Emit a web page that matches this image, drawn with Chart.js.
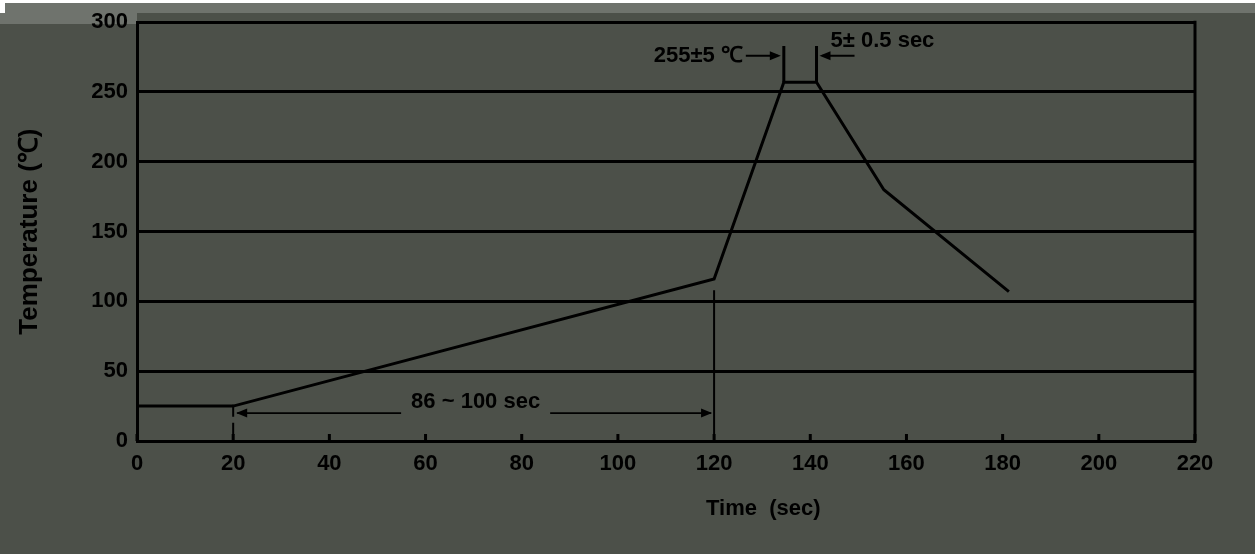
<!DOCTYPE html>
<html>
<head>
<meta charset="utf-8">
<script src="https://cdn.jsdelivr.net/npm/chart.js@4.4.1/dist/chart.umd.min.js"></script>
<style>
  html, body { margin: 0; padding: 0; background: #4c5049; }
  #wrap { width: 1255px; height: 554px; }
</style>
</head>
<body>
<div id="wrap"><canvas id="profile"></canvas></div>
<script>
// reflow profile
const timeSec = [0, 20, 120, 134.5, 141.3, 155.3, 181.3];
const tempC = [25, 25, 116, 257, 257, 180, 107];
const xTicks = [0, 20, 40, 60, 80, 100, 120, 140, 160, 180, 200, 220];
const yTicks = [0, 50, 100, 150, 200, 250, 300];

const soakLabel = '86 ~ 100 sec';
const peakTempLabel = '255±5 ℃';
const peakTimeLabel = '5± 0.5 sec';
const xTitle = 'Time  (sec)';

const ink = '#000';
const bg = '#4c5049';
const font = "'Liberation Sans', Arial, sans-serif";

// fond gris + bande claire en haut
const backdrop = {
  id: 'backdrop',
  beforeDraw(chart) {
    const { ctx, width, height } = chart;
    ctx.save();
    ctx.fillStyle = bg;
    ctx.fillRect(0, 0, width, height);
    ctx.fillStyle = '#6f736d';
    ctx.fillRect(0, 3, width, 10);
    ctx.fillRect(0, 13, 137, 11);
    ctx.fillStyle = '#fff';
    ctx.fillRect(0, 0, width, 3);
    ctx.fillRect(0, 0, 5, 13);
    ctx.restore();
  }
};

function arrowHead(ctx, x, y, dir) {
  ctx.beginPath();
  ctx.moveTo(x, y);
  ctx.lineTo(x - dir * 11, y - 4.5);
  ctx.lineTo(x - dir * 11, y + 4.5);
  ctx.closePath();
  ctx.fill();
}

// cotes : durée de préchauffage, pic
const markers = {
  id: 'markers',
  afterDraw(chart) {
    const { ctx, chartArea } = chart;
    const xs = chart.scales.x, ys = chart.scales.y;
    ctx.save();
    ctx.strokeStyle = ink;
    ctx.fillStyle = ink;

    // bord droit
    ctx.lineWidth = 3;
    ctx.beginPath();
    ctx.moveTo(chartArea.right, chartArea.top - 1.5);
    ctx.lineTo(chartArea.right, chartArea.bottom + 1.5);
    ctx.stroke();

    // petits traits de graduation vers l'intérieur
    xs.ticks.forEach(t => {
      const px = xs.getPixelForValue(t.value);
      ctx.beginPath();
      ctx.moveTo(px, chartArea.bottom);
      ctx.lineTo(px, chartArea.bottom - 7);
      ctx.stroke();
    });

    const x20 = xs.getPixelForValue(timeSec[1]);
    const x120 = xs.getPixelForValue(timeSec[2]);
    const y0 = ys.getPixelForValue(0);

    // trait pointillé à 20 s
    ctx.lineWidth = 2;
    ctx.setLineDash([12, 6]);
    ctx.beginPath();
    ctx.moveTo(x20, ys.getPixelForValue(26));
    ctx.lineTo(x20, y0);
    ctx.stroke();
    ctx.setLineDash([]);

    // trait vertical à 120 s
    ctx.beginPath();
    ctx.moveTo(x120, ys.getPixelForValue(108));
    ctx.lineTo(x120, y0);
    ctx.stroke();

    // flèche 86 ~ 100 sec
    const ya = ys.getPixelForValue(20);
    ctx.font = `bold 22px ${font}`;
    ctx.textAlign = 'center';
    ctx.textBaseline = 'middle';
    const mid = (x20 + x120) / 2 + 2;
    const half = ctx.measureText(soakLabel).width / 2 + 10;
    ctx.lineWidth = 1.8;
    ctx.beginPath();
    ctx.moveTo(x20 + 4, ya);
    ctx.lineTo(mid - half, ya);
    ctx.moveTo(mid + half, ya);
    ctx.lineTo(x120 - 3, ya);
    ctx.stroke();
    arrowHead(ctx, x20 + 3, ya, -1);
    arrowHead(ctx, x120 - 2, ya, 1);
    ctx.fillText(soakLabel, mid, ya - 11);

    // pic
    const xp1 = xs.getPixelForValue(timeSec[3]);
    const xp2 = xs.getPixelForValue(timeSec[4]);
    const yTop = ys.getPixelForValue(283);
    const yFlat = ys.getPixelForValue(tempC[3]);
    const yArr = ys.getPixelForValue(276);
    ctx.lineWidth = 3;
    ctx.beginPath();
    ctx.moveTo(xp1, yTop); ctx.lineTo(xp1, yFlat);
    ctx.moveTo(xp2, yTop); ctx.lineTo(xp2, yFlat);
    ctx.stroke();

    ctx.lineWidth = 2;
    ctx.beginPath();
    ctx.moveTo(xp1 - 38, yArr); ctx.lineTo(xp1 - 6, yArr);
    ctx.moveTo(xp2 + 38, yArr); ctx.lineTo(xp2 + 6, yArr);
    ctx.stroke();
    arrowHead(ctx, xp1 - 3, yArr, 1);
    arrowHead(ctx, xp2 + 3, yArr, -1);

    ctx.textAlign = 'right';
    ctx.fillText(peakTempLabel, xp1 - 41, yArr);
    ctx.textAlign = 'left';
    ctx.fillText(peakTimeLabel, xp2 + 14, yArr - 15);

    // titre de l'axe X, décalé à droite comme sur l'original
    ctx.textAlign = 'center';
    ctx.fillText(xTitle, chartArea.left + chartArea.width * 0.592, 509);

    ctx.restore();
  }
};

Chart.defaults.font.family = font;
Chart.defaults.font.weight = 'bold';
Chart.defaults.color = ink;

new Chart(document.getElementById('profile'), {
  type: 'line',
  data: {
    datasets: [{
      data: timeSec.map((t, i) => ({ x: t, y: tempC[i] })),
      borderColor: ink,
      borderWidth: 3,
      pointRadius: 0,
      tension: 0,
      fill: false
    }]
  },
  plugins: [backdrop, markers],
  options: {
    responsive: true,
    maintainAspectRatio: false,
    animation: false,
    devicePixelRatio: 1,
    layout: { padding: { left: 0, right: 60, top: 22, bottom: 0 } },
    plugins: { legend: { display: false }, tooltip: { enabled: false } },
    scales: {
      x: {
        type: 'linear',
        min: 0,
        max: 220,
        afterBuildTicks: s => { s.ticks = xTicks.map(v => ({ value: v })); },
        afterFit: s => { s.height = 113; },
        ticks: { padding: 10, maxRotation: 0, font: { size: 22, weight: 'bold' } },
        grid: { drawOnChartArea: false, drawTicks: false },
        border: { display: true, color: ink, width: 3 }
      },
      y: {
        min: 0,
        max: 300,
        afterBuildTicks: s => { s.ticks = yTicks.map(v => ({ value: v })); },
        afterFit: s => { s.width = 137; },
        ticks: { padding: 9, font: { size: 22, weight: 'bold' } },
        grid: { color: ink, lineWidth: 3, drawTicks: false },
        border: { display: true, color: ink, width: 3 },
        title: { display: true, text: 'Temperature (℃)', padding: { top: 14, bottom: 0 }, font: { size: 26, weight: 'bold' } }
      }
    }
  }
});
</script>
</body>
</html>
